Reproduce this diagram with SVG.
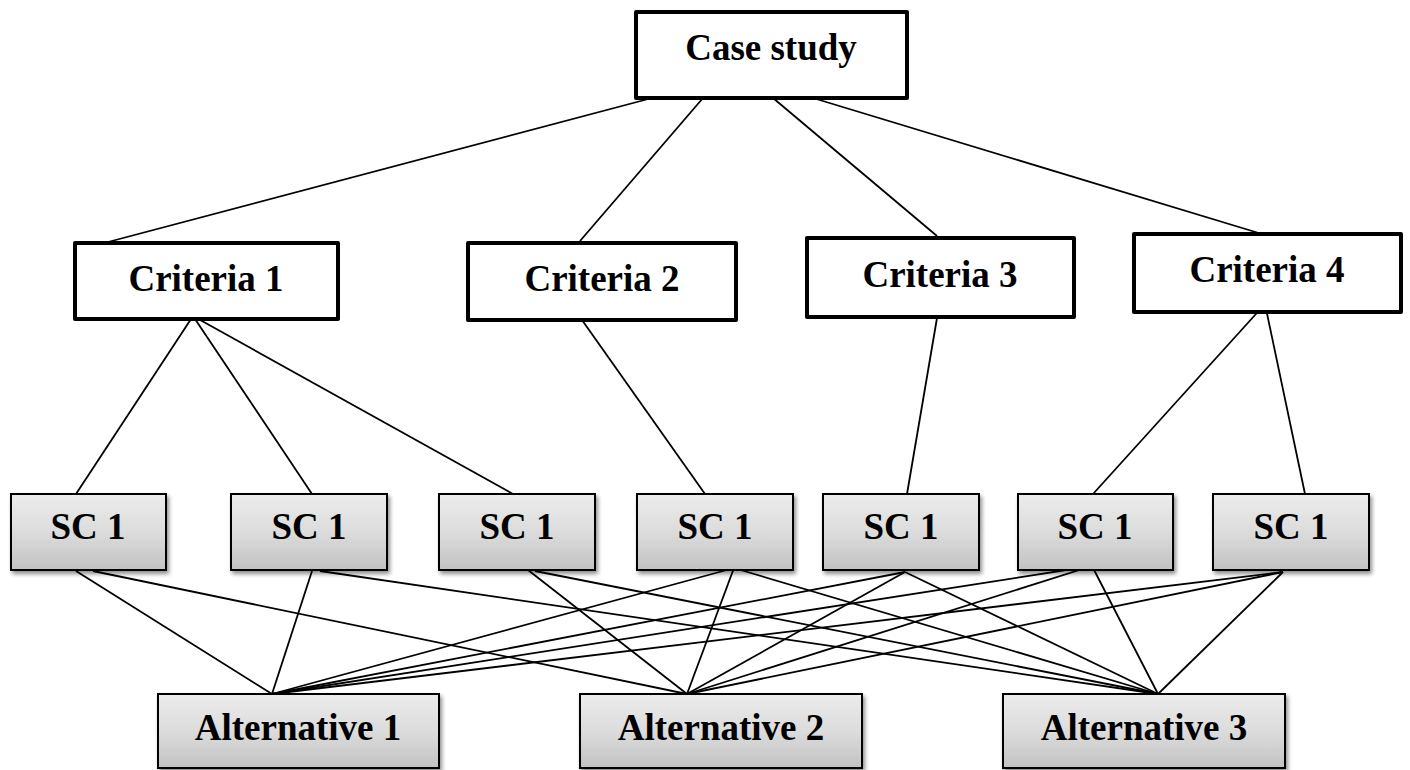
<svg xmlns="http://www.w3.org/2000/svg" width="1410" height="770" viewBox="0 0 1410 770">
<style>
.top{fill:#ffffff;stroke:#000000;stroke-width:4;stroke-linejoin:round}
.sub{fill:url(#g);stroke:#000000;stroke-width:2;filter:url(#sh)}
.t{font-family:"Liberation Serif","Times New Roman",serif;font-weight:bold;font-size:37px;fill:#000000;text-anchor:middle}
.c line{stroke:#000000;stroke-width:1.8}
</style>
<defs>
<linearGradient id="g" x1="0" y1="0" x2="0" y2="1">
<stop offset="0" stop-color="#ececec"/>
<stop offset="0.5" stop-color="#dcdcdc"/>
<stop offset="1" stop-color="#c2c2c2"/>
</linearGradient>
<filter id="sh" x="-10%" y="-10%" width="125%" height="135%">
<feGaussianBlur in="SourceAlpha" stdDeviation="2"/>
<feOffset dx="2" dy="3" result="o"/>
<feComponentTransfer><feFuncA type="linear" slope="0.45"/></feComponentTransfer>
<feMerge><feMergeNode/><feMergeNode in="SourceGraphic"/></feMerge>
</filter>
</defs>
<rect width="1410" height="770" fill="#ffffff"/>
<g class="c" id="connectors">
<line x1="652" y1="98" x2="108" y2="242"/>
<line x1="703" y1="98" x2="580" y2="241"/>
<line x1="773" y1="98" x2="937" y2="236"/>
<line x1="813" y1="98" x2="1262" y2="234"/>
<line x1="193" y1="316" x2="76" y2="494"/>
<line x1="193" y1="316" x2="312" y2="494"/>
<line x1="193" y1="316" x2="513" y2="494"/>
<line x1="582" y1="320" x2="705" y2="494"/>
<line x1="937" y1="318" x2="907" y2="494"/>
<line x1="1265" y1="304" x2="1093" y2="494"/>
<line x1="1265" y1="304" x2="1305" y2="494"/>
<line x1="76" y1="571" x2="272" y2="694"/>
<line x1="93" y1="571" x2="687" y2="694"/>
<line x1="312" y1="571" x2="272" y2="694"/>
<line x1="320" y1="571" x2="1158" y2="694"/>
<line x1="528" y1="570" x2="687" y2="694"/>
<line x1="535" y1="571" x2="1158" y2="694"/>
<line x1="734" y1="568" x2="272" y2="694"/>
<line x1="734" y1="568" x2="687" y2="694"/>
<line x1="734" y1="568" x2="1158" y2="694"/>
<line x1="905" y1="572" x2="272" y2="694"/>
<line x1="905" y1="572" x2="687" y2="694"/>
<line x1="905" y1="572" x2="1158" y2="694"/>
<line x1="1092" y1="566" x2="272" y2="694"/>
<line x1="1092" y1="566" x2="687" y2="694"/>
<line x1="1092" y1="566" x2="1158" y2="694"/>
<line x1="1283" y1="572" x2="272" y2="694"/>
<line x1="1283" y1="572" x2="687" y2="694"/>
<line x1="1283" y1="572" x2="1158" y2="694"/>
</g>
<g id="case-study"><rect class="top" x="636" y="12" width="271" height="86"/><text class="t" x="771" y="60">Case study</text></g>
<g id="criteria-1"><rect class="top" x="75" y="243" width="263" height="76"/><text class="t" x="206" y="291">Criteria 1</text></g>
<g id="criteria-2"><rect class="top" x="468" y="243" width="268" height="77"/><text class="t" x="602" y="291">Criteria 2</text></g>
<g id="criteria-3"><rect class="top" x="807" y="238" width="267" height="79"/><text class="t" x="940" y="287">Criteria 3</text></g>
<g id="criteria-4"><rect class="top" x="1134" y="234" width="267" height="78"/><text class="t" x="1267" y="282">Criteria 4</text></g>
<g id="sc-1"><rect class="sub" x="11" y="494" width="155" height="76"/><text class="t" x="88" y="539">SC 1</text></g>
<g id="sc-2"><rect class="sub" x="231" y="494" width="156" height="76"/><text class="t" x="309" y="539">SC 1</text></g>
<g id="sc-3"><rect class="sub" x="439" y="494" width="156" height="76"/><text class="t" x="517" y="539">SC 1</text></g>
<g id="sc-4"><rect class="sub" x="637" y="494" width="156" height="76"/><text class="t" x="715" y="539">SC 1</text></g>
<g id="sc-5"><rect class="sub" x="823" y="494" width="156" height="76"/><text class="t" x="901" y="539">SC 1</text></g>
<g id="sc-6"><rect class="sub" x="1018" y="494" width="155" height="76"/><text class="t" x="1095" y="539">SC 1</text></g>
<g id="sc-7"><rect class="sub" x="1213" y="494" width="156" height="76"/><text class="t" x="1291" y="539">SC 1</text></g>
<g id="alternative-1"><rect class="sub" x="158" y="694" width="281" height="74"/><text class="t" x="298" y="740">Alternative 1</text></g>
<g id="alternative-2"><rect class="sub" x="580" y="694" width="282" height="74"/><text class="t" x="721" y="740">Alternative 2</text></g>
<g id="alternative-3"><rect class="sub" x="1003" y="694" width="282" height="74"/><text class="t" x="1144" y="740">Alternative 3</text></g>
</svg>
